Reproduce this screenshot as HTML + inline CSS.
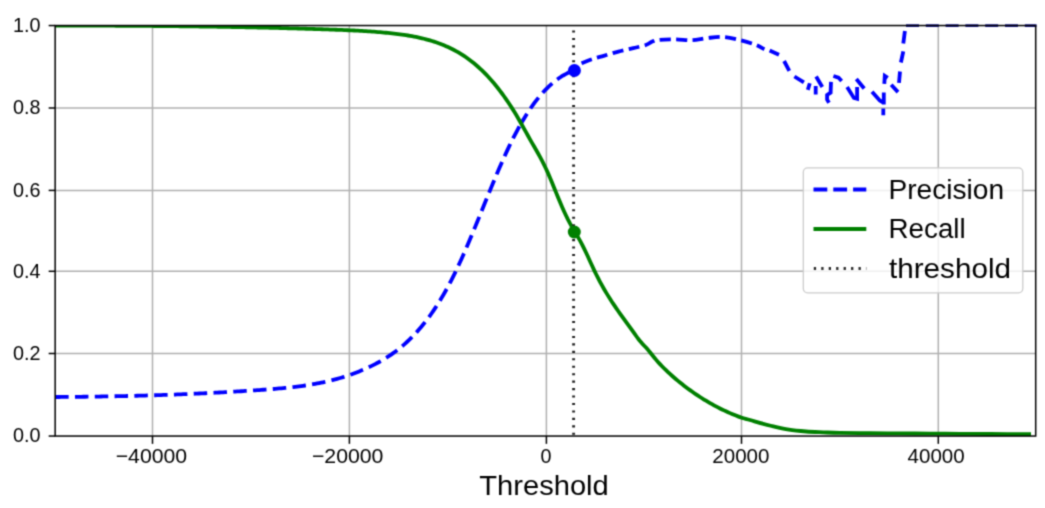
<!DOCTYPE html>
<html><head><meta charset="utf-8"><style>
html,body{margin:0;padding:0;background:#fff;width:1045px;height:508px;overflow:hidden}
svg{display:block}
text{font-family:"Liberation Sans",sans-serif;fill:#000}
</style></head><body>
<svg width="1045" height="508" viewBox="0 0 1045 508">
<defs><filter id="bl" x="0" y="0" width="1045" height="508" filterUnits="userSpaceOnUse" color-interpolation-filters="sRGB"><feConvolveMatrix order="3" kernelMatrix="0.03607 0.11778 0.03607 0.11778 0.38462 0.11778 0.03607 0.11778 0.03607" edgeMode="duplicate"/></filter><clipPath id="ax"><rect x="55.16" y="25.55" width="980.54" height="410.50"/></clipPath></defs>
<g filter="url(#bl)"><rect width="1045" height="508" fill="#fff"/>
<g stroke="#b0b0b0" stroke-width="1.5" fill="none"><line x1="152.5" y1="25.55" x2="152.5" y2="436.05"/><line x1="349.4" y1="25.55" x2="349.4" y2="436.05"/><line x1="546.4" y1="25.55" x2="546.4" y2="436.05"/><line x1="741.5" y1="25.55" x2="741.5" y2="436.05"/><line x1="938.3" y1="25.55" x2="938.3" y2="436.05"/><line x1="55.16" y1="353.5" x2="1035.7" y2="353.5"/><line x1="55.16" y1="271.3" x2="1035.7" y2="271.3"/><line x1="55.16" y1="190.4" x2="1035.7" y2="190.4"/><line x1="55.16" y1="108.0" x2="1035.7" y2="108.0"/></g>
<g clip-path="url(#ax)" fill="none" stroke-linejoin="round">
<path d="M55.16,397.01 L57.16,396.99 L59.16,396.98 L61.16,396.97 L63.16,396.95 L65.16,396.94 L67.16,396.92 L69.16,396.90 L71.16,396.89 L73.16,396.87 L75.16,396.85 L77.16,396.83 L79.16,396.81 L81.16,396.78 L83.16,396.76 L85.16,396.74 L87.16,396.71 L89.16,396.69 L91.16,396.66 L93.16,396.63 L95.16,396.60 L97.16,396.57 L99.16,396.54 L101.16,396.51 L103.16,396.47 L105.16,396.44 L107.16,396.41 L109.16,396.37 L111.16,396.33 L113.16,396.29 L115.16,396.25 L117.16,396.21 L119.16,396.17 L121.16,396.13 L123.16,396.09 L125.16,396.04 L127.16,395.99 L129.16,395.95 L131.16,395.90 L133.16,395.85 L135.16,395.80 L137.16,395.75 L139.16,395.69 L141.16,395.64 L143.16,395.58 L145.16,395.53 L147.16,395.47 L149.16,395.41 L151.16,395.35 L153.16,395.29 L155.16,395.23 L157.16,395.16 L159.16,395.10 L161.16,395.03 L163.16,394.96 L165.16,394.89 L167.16,394.82 L169.16,394.75 L171.16,394.68 L173.16,394.60 L175.16,394.53 L177.16,394.45 L179.16,394.37 L181.16,394.29 L183.16,394.21 L185.16,394.13 L187.16,394.05 L189.16,393.96 L191.16,393.87 L193.16,393.79 L195.16,393.70 L197.16,393.61 L199.16,393.51 L201.16,393.42 L203.16,393.32 L205.16,393.23 L207.16,393.13 L209.16,393.03 L211.16,392.93 L213.16,392.83 L215.16,392.72 L217.16,392.62 L219.16,392.51 L221.16,392.40 L223.16,392.29 L225.16,392.18 L227.16,392.06 L229.16,391.95 L231.16,391.83 L233.16,391.71 L235.16,391.59 L237.16,391.47 L239.16,391.35 L241.16,391.23 L243.16,391.10 L245.16,390.97 L247.16,390.84 L249.16,390.71 L251.16,390.58 L253.16,390.44 L255.16,390.31 L257.16,390.17 L259.16,390.03 L261.16,389.89 L263.16,389.75 L265.16,389.60 L267.16,389.45 L269.16,389.30 L271.16,389.15 L273.16,388.99 L275.16,388.82 L277.16,388.66 L279.16,388.48 L281.16,388.30 L283.16,388.12 L285.16,387.92 L287.16,387.72 L289.16,387.52 L291.16,387.30 L293.16,387.07 L295.16,386.84 L297.16,386.59 L299.16,386.34 L301.16,386.07 L303.16,385.79 L305.16,385.50 L307.16,385.20 L309.16,384.89 L311.16,384.56 L313.16,384.22 L315.16,383.86 L317.16,383.49 L319.16,383.10 L321.16,382.70 L323.16,382.28 L325.16,381.85 L327.16,381.39 L329.16,380.92 L331.16,380.44 L333.16,379.93 L335.16,379.40 L337.16,378.86 L339.16,378.29 L341.16,377.71 L343.16,377.10 L345.16,376.47 L347.16,375.82 L349.16,375.14 L351.16,374.45 L353.16,373.73 L355.16,372.98 L357.16,372.21 L359.16,371.42 L361.16,370.60 L363.16,369.75 L365.16,368.88 L367.16,367.98 L369.16,367.06 L371.16,366.10 L373.16,365.12 L375.16,364.10 L377.16,363.05 L379.16,361.97 L381.16,360.84 L383.16,359.68 L385.16,358.48 L387.16,357.22 L389.16,355.93 L391.16,354.58 L393.16,353.18 L395.16,351.73 L397.16,350.22 L399.16,348.66 L401.16,347.03 L403.16,345.35 L405.16,343.60 L407.16,341.78 L409.16,339.89 L411.16,337.94 L413.16,335.91 L415.16,333.80 L417.16,331.62 L419.16,329.36 L421.16,327.01 L423.16,324.58 L425.16,322.07 L427.16,319.47 L429.16,316.78 L431.16,313.99 L433.16,311.11 L435.16,308.13 L437.16,305.06 L439.16,301.88 L441.16,298.60 L443.16,295.21 L445.16,291.71 L447.16,288.11 L449.16,284.39 L451.16,280.56 L453.16,276.61 L455.16,272.55 L457.16,268.36 L459.16,264.07 L461.16,259.68 L463.16,255.20 L465.16,250.64 L467.16,246.00 L469.16,241.30 L471.16,236.54 L473.16,231.73 L475.16,226.88 L477.16,222.00 L479.16,217.10 L481.16,212.18 L483.16,207.25 L485.16,202.32 L487.16,197.41 L489.16,192.51 L491.16,187.64 L493.16,182.80 L495.16,178.01 L497.16,173.27 L499.16,168.59 L501.16,163.97 L503.16,159.44 L505.16,154.99 L507.16,150.63 L509.16,146.37 L511.16,142.23 L513.16,138.20 L515.16,134.30 L517.16,130.52 L519.16,126.87 L521.16,123.34" stroke="#0000ff" stroke-width="3.8" stroke-dasharray="13.5 6.3"/>
<path d="M521.16,123.34 L523.16,119.93 L525.16,116.65 L527.16,113.48 L529.16,110.43 L531.16,107.50 L533.16,104.68 L535.16,101.97 L537.16,99.38 L539.16,96.91 L541.16,94.54 L543.16,92.28 L545.16,90.13 L547.16,88.09 L549.16,86.16 L551.16,84.33 L553.16,82.60 L555.16,80.98 L557.16,79.46 L559.16,78.04 L561.16,76.71 L563.16,75.49 L565.16,74.36 L567.16,73.33 L569.16,72.39 L571.16,71.55 L573.16,70.80 L574.30,70.41" stroke="#0000ff" stroke-width="3.8" stroke-dasharray="13.5 6.3" stroke-dashoffset="22.04"/>
<path d="M581.50,63.30 C583.35,62.58 588.90,60.25 592.60,59.00 C596.30,57.75 599.40,57.03 603.70,55.80 C608.00,54.57 613.48,52.87 618.40,51.60 C623.32,50.33 628.63,49.30 633.20,48.20 C637.77,47.10 642.62,46.10 645.80,45.00 C648.98,43.90 650.20,42.45 652.30,41.60 C654.40,40.75 654.57,40.28 658.40,39.90 C662.23,39.52 669.68,39.25 675.30,39.30 C680.92,39.35 686.85,40.40 692.10,40.20 C697.35,40.00 701.53,38.63 706.80,38.10 C712.07,37.57 718.08,36.65 723.70,37.00 C729.32,37.35 735.28,38.93 740.50,40.20 C745.72,41.47 751.02,43.10 755.00,44.60 C758.98,46.10 762.83,48.43 764.40,49.20" stroke="#0000ff" stroke-width="3.8" stroke-dasharray="11 5.4"/>
<path d="M769.60,50.40 L779.00,54.70 M784.10,61.00 L789.30,70.80 M794.40,76.50 L803.90,82.40 M809.80,83.20 L807.80,89.90 M815.70,86.00 L815.70,94.60 M816.10,76.50 L822.30,87.00 M831.00,81.90 L830.60,92.60 L827.10,94.90 L827.10,99.60 L829.00,102.80 M833.40,76.00 L838.50,77.60 L841.60,81.10 M847.10,87.00 L853.90,97.90 L857.10,98.70 L857.10,86.90 M856.30,79.00 L864.20,88.50 M872.00,91.70 L879.80,100.50 L883.30,102.50 M883.80,92.60 L883.80,104.40 M883.30,108.40 L883.30,115.30 M884.30,83.80 L884.80,75.90 L887.70,77.90 M891.20,84.80 L898.00,92.10 M899.00,82.80 L900.00,71.50 M900.90,62.50 L903.30,51.40 M903.30,43.60 L904.90,31.00 " stroke="#0000ff" stroke-width="3.8" stroke-linejoin="miter"/>
<path d="M40.00,25.51 L42.00,25.51 L44.00,25.52 L46.00,25.52 L48.00,25.52 L50.00,25.53 L52.00,25.53 L54.00,25.53 L56.00,25.54 L58.00,25.54 L60.00,25.54 L62.00,25.55 L64.00,25.55 L66.00,25.56 L68.00,25.56 L70.00,25.57 L72.00,25.57 L74.00,25.58 L76.00,25.58 L78.00,25.59 L80.00,25.59 L82.00,25.60 L84.00,25.60 L86.00,25.61 L88.00,25.62 L90.00,25.62 L92.00,25.63 L94.00,25.64 L96.00,25.64 L98.00,25.65 L100.00,25.66 L102.00,25.67 L104.00,25.68 L106.00,25.68 L108.00,25.69 L110.00,25.70 L112.00,25.71 L114.00,25.72 L116.00,25.73 L118.00,25.74 L120.00,25.75 L122.00,25.76 L124.00,25.78 L126.00,25.79 L128.00,25.80 L130.00,25.81 L132.00,25.82 L134.00,25.84 L136.00,25.85 L138.00,25.86 L140.00,25.88 L142.00,25.89 L144.00,25.91 L146.00,25.92 L148.00,25.94 L150.00,25.95 L152.00,25.97 L154.00,25.98 L156.00,26.00 L158.00,26.02 L160.00,26.04 L162.00,26.05 L164.00,26.07 L166.00,26.09 L168.00,26.11 L170.00,26.13 L172.00,26.15 L174.00,26.17 L176.00,26.19 L178.00,26.21 L180.00,26.24 L182.00,26.26 L184.00,26.28 L186.00,26.30 L188.00,26.33 L190.00,26.35 L192.00,26.38 L194.00,26.40 L196.00,26.43 L198.00,26.45 L200.00,26.48 L202.00,26.51 L204.00,26.53 L206.00,26.56 L208.00,26.59 L210.00,26.62 L212.00,26.65 L214.00,26.68 L216.00,26.71 L218.00,26.74 L220.00,26.78 L222.00,26.81 L224.00,26.84 L226.00,26.87 L228.00,26.91 L230.00,26.94 L232.00,26.98 L234.00,27.02 L236.00,27.05 L238.00,27.09 L240.00,27.13 L242.00,27.16 L244.00,27.20 L246.00,27.24 L248.00,27.28 L250.00,27.32 L252.00,27.37 L254.00,27.41 L256.00,27.45 L258.00,27.49 L260.00,27.54 L262.00,27.58 L264.00,27.63 L266.00,27.67 L268.00,27.72 L270.00,27.77 L272.00,27.82 L274.00,27.86 L276.00,27.91 L278.00,27.96 L280.00,28.02 L282.00,28.07 L284.00,28.12 L286.00,28.17 L288.00,28.23 L290.00,28.28 L292.00,28.34 L294.00,28.39 L296.00,28.45 L298.00,28.50 L300.00,28.56 L302.00,28.62 L304.00,28.68 L306.00,28.74 L308.00,28.80 L310.00,28.86 L312.00,28.93 L314.00,28.99 L316.00,29.06 L318.00,29.12 L320.00,29.19 L322.00,29.25 L324.00,29.32 L326.00,29.39 L328.00,29.46 L330.00,29.53 L332.00,29.60 L334.00,29.67 L336.00,29.74 L338.00,29.82 L340.00,29.90 L342.00,29.97 L344.00,30.06 L346.00,30.14 L348.00,30.23 L350.00,30.32 L352.00,30.41 L354.00,30.51 L356.00,30.61 L358.00,30.71 L360.00,30.82 L362.00,30.93 L364.00,31.05 L366.00,31.18 L368.00,31.30 L370.00,31.44 L372.00,31.58 L374.00,31.73 L376.00,31.88 L378.00,32.04 L380.00,32.20 L382.00,32.38 L384.00,32.56 L386.00,32.75 L388.00,32.94 L390.00,33.15 L392.00,33.36 L394.00,33.59 L396.00,33.82 L398.00,34.06 L400.00,34.32 L402.00,34.59 L404.00,34.88 L406.00,35.18 L408.00,35.50 L410.00,35.83 L412.00,36.19 L414.00,36.56 L416.00,36.96 L418.00,37.38 L420.00,37.82 L422.00,38.28 L424.00,38.77 L426.00,39.29 L428.00,39.83 L430.00,40.40 L432.00,41.00 L434.00,41.63 L436.00,42.29 L438.00,42.99 L440.00,43.72 L442.00,44.49 L444.00,45.30 L446.00,46.15 L448.00,47.04 L450.00,47.98 L452.00,48.96 L454.00,49.99 L456.00,51.07 L458.00,52.20 L460.00,53.39 L462.00,54.63 L464.00,55.93 L466.00,57.28 L468.00,58.70 L470.00,60.18 L472.00,61.72 L474.00,63.33 L476.00,65.00 L478.00,66.74 L480.00,68.56 L482.00,70.44 L484.00,72.40 L486.00,74.43 L488.00,76.54 L490.00,78.72 L492.00,80.98 L494.00,83.32 L496.00,85.74 L498.00,88.24 L500.00,90.83 L502.00,93.49 L504.00,96.25 L506.00,99.08 L508.00,102.01 L510.00,105.02 L512.00,108.13 L514.00,111.32 L516.00,114.61 L518.00,117.99 L520.00,121.47 L522.00,125.01 L524.00,128.59 L526.00,132.20 L528.00,135.79 L530.00,139.35 L532.00,142.85 L534.00,146.32 L536.00,149.79 L538.00,153.31 L540.00,156.92 L542.00,160.66 L544.00,164.58 L546.00,168.72 L548.00,173.11 L550.00,177.74 L552.00,182.53 L554.00,187.42 L556.00,192.35 L558.00,197.25 L560.00,202.07 L562.00,206.73 L564.00,211.21 L566.00,215.49 L568.00,219.55 L570.00,223.38 L572.00,226.98 L574.00,230.41 L576.00,233.77 L578.00,237.15 L580.00,240.64 L582.00,244.34 L584.00,248.31 L586.00,252.48 L588.00,256.80 L590.00,261.18 L592.00,265.56 L594.00,269.84 L596.00,273.98 L598.00,277.95 L600.00,281.76 L602.00,285.42 L604.00,288.95 L606.00,292.35 L608.00,295.63 L610.00,298.82 L612.00,301.91 L614.00,304.92 L616.00,307.85 L618.00,310.73 L620.00,313.56 L622.00,316.35 L624.00,319.12 L626.00,321.87 L628.00,324.61 L630.00,327.36 L632.00,330.12 L634.00,332.92 L636.00,335.74 L638.00,338.50 L640.00,341.07 L642.00,343.35 L644.00,345.44 L646.00,347.55 L648.00,349.84 L650.00,352.30 L652.00,354.80 L654.00,357.26 L656.00,359.63 L658.00,361.91 L660.00,364.10 L662.00,366.22 L664.00,368.25 L666.00,370.22 L668.00,372.13 L670.00,373.98 L672.00,375.77 L674.00,377.51 L676.00,379.21 L678.00,380.87 L680.00,382.50 L682.00,384.09 L684.00,385.65 L686.00,387.18 L688.00,388.68 L690.00,390.14 L692.00,391.57 L694.00,392.98 L696.00,394.35 L698.00,395.68 L700.00,396.99 L702.00,398.27 L704.00,399.52 L706.00,400.73 L708.00,401.92 L710.00,403.08 L712.00,404.21 L714.00,405.31 L716.00,406.39 L718.00,407.43 L720.00,408.45 L722.00,409.44 L724.00,410.40 L726.00,411.33 L728.00,412.24 L730.00,413.12 L732.00,413.97 L734.00,414.80 L736.00,415.61 L738.00,416.38 L740.00,417.14 L741.20,417.58 C743.42,418.07 749.42,419.97 754.50,421.40 C759.58,422.83 765.97,424.62 771.70,426.00 C777.43,427.38 783.17,428.78 788.90,429.70 C794.63,430.62 800.35,431.07 806.10,431.50 C811.85,431.93 817.75,432.07 823.40,432.30 C829.05,432.53 832.23,432.75 840.00,432.90 C847.77,433.05 860.00,433.12 870.00,433.20 C880.00,433.28 890.00,433.33 900.00,433.40 C910.00,433.47 920.00,433.53 930.00,433.60 C940.00,433.67 950.00,433.73 960.00,433.80 C970.00,433.87 978.17,433.93 990.00,434.00 C1001.83,434.07 1024.17,434.17 1031.00,434.20" stroke="#008000" stroke-width="3.8"/>
<line x1="573.6" y1="436.05" x2="573.6" y2="25.55" stroke="#222" stroke-width="2.9" stroke-dasharray="2.1 5.35" stroke-dashoffset="-1.2"/>
<circle cx="574.4" cy="70.5" r="6.5" fill="#0000ff"/>
<circle cx="574.3" cy="232.0" r="6.5" fill="#008000"/>
</g>
<path d="M906.00,25.55 L919.00,25.55 M925.80,25.55 L938.80,25.55 M945.60,25.55 L958.60,25.55 M965.40,25.55 L978.40,25.55 M985.20,25.55 L998.20,25.55 M1005.00,25.55 L1018.00,25.55 M1024.80,25.55 L1036.50,25.55 " stroke="#1a1aa0" stroke-width="2.8" fill="none"/>
<rect x="55.16" y="25.55" width="980.54" height="410.50" fill="none" stroke="#000" stroke-width="1.5"/>
<g stroke="#000" stroke-width="1.5"><line x1="152.5" y1="436.05" x2="152.5" y2="443.85"/><line x1="349.4" y1="436.05" x2="349.4" y2="443.85"/><line x1="546.4" y1="436.05" x2="546.4" y2="443.85"/><line x1="741.5" y1="436.05" x2="741.5" y2="443.85"/><line x1="938.3" y1="436.05" x2="938.3" y2="443.85"/><line x1="48.66" y1="436.05" x2="55.16" y2="436.05"/><line x1="48.66" y1="353.5" x2="55.16" y2="353.5"/><line x1="48.66" y1="271.3" x2="55.16" y2="271.3"/><line x1="48.66" y1="190.4" x2="55.16" y2="190.4"/><line x1="48.66" y1="108.0" x2="55.16" y2="108.0"/><line x1="48.66" y1="25.55" x2="55.16" y2="25.55"/></g>
<g font-size="20.6"><text x="151.4" y="462.6" text-anchor="middle" textLength="71.4" lengthAdjust="spacingAndGlyphs">−40000</text><text x="347.7" y="462.6" text-anchor="middle" textLength="71.5" lengthAdjust="spacingAndGlyphs">−20000</text><text x="546.0" y="462.6" text-anchor="middle" textLength="11.0" lengthAdjust="spacingAndGlyphs">0</text><text x="740.9" y="462.6" text-anchor="middle" textLength="57.1" lengthAdjust="spacingAndGlyphs">20000</text><text x="936.1" y="462.6" text-anchor="middle" textLength="57.1" lengthAdjust="spacingAndGlyphs">40000</text><text x="40.6" y="442.4" text-anchor="end" textLength="27.5" lengthAdjust="spacingAndGlyphs">0.0</text><text x="40.6" y="359.8" text-anchor="end" textLength="27.5" lengthAdjust="spacingAndGlyphs">0.2</text><text x="40.6" y="277.6" text-anchor="end" textLength="27.5" lengthAdjust="spacingAndGlyphs">0.4</text><text x="40.6" y="196.7" text-anchor="end" textLength="27.5" lengthAdjust="spacingAndGlyphs">0.6</text><text x="40.6" y="114.3" text-anchor="end" textLength="27.5" lengthAdjust="spacingAndGlyphs">0.8</text><text x="40.6" y="31.9" text-anchor="end" textLength="27.5" lengthAdjust="spacingAndGlyphs">1.0</text></g>
<text x="544" y="494.9" font-size="27.7" text-anchor="middle" textLength="129.5" lengthAdjust="spacingAndGlyphs">Threshold</text>
<g>
<rect x="803.3" y="167.9" width="219.5" height="125.0" rx="4.3" fill="#fff" fill-opacity="0.8" stroke="#cccccc" stroke-width="1.3"/>
<line x1="813.5" y1="189.5" x2="866.3" y2="189.5" stroke="#0000ff" stroke-width="3.8" stroke-dasharray="13.8 6"/>
<line x1="813.5" y1="229" x2="866.3" y2="229" stroke="#008000" stroke-width="3.8"/>
<line x1="813.8" y1="268.4" x2="866.3" y2="268.4" stroke="#2a2a2a" stroke-width="3.0" stroke-dasharray="2.3 5.15"/>
<g font-size="27.7" fill="#000">
<text x="888.5" y="199.2" textLength="115.6" lengthAdjust="spacingAndGlyphs">Precision</text>
<text x="888.5" y="238.2" textLength="77.2" lengthAdjust="spacingAndGlyphs">Recall</text>
<text x="889" y="277.6" textLength="122" lengthAdjust="spacingAndGlyphs">threshold</text>
</g>
</g>
</g>
</svg>
</body></html>
